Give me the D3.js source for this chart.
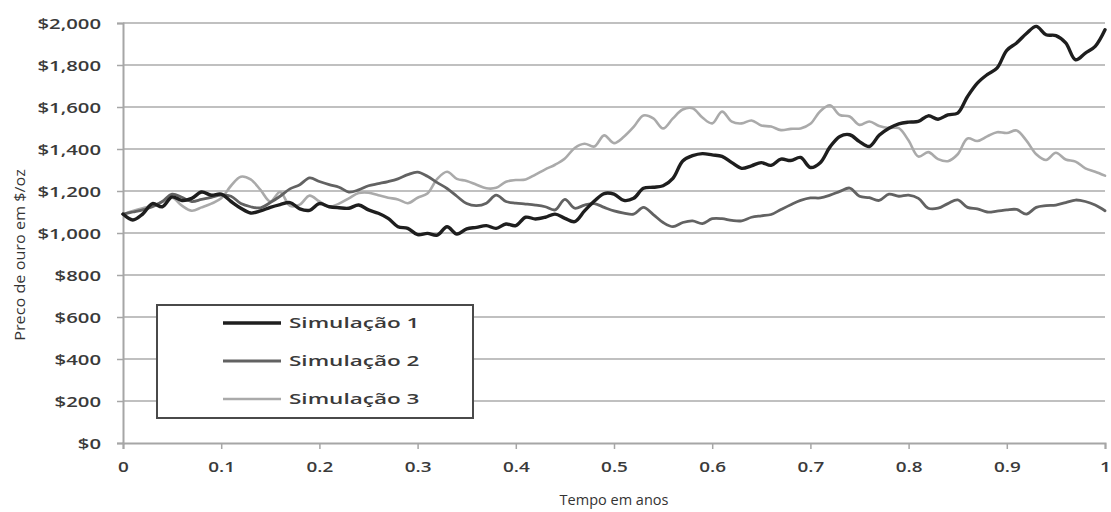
<!DOCTYPE html>
<html>
<head>
<meta charset="utf-8">
<script src="https://cdn.jsdelivr.net/npm/d3@7"></script>
<style>
  html, body { margin: 0; padding: 0; background: #fff; }
  svg { display: block; }
  text { font-family: "Open Sans", "DejaVu Sans", sans-serif; }
</style>
</head>
<body>
<svg id="chart" width="1111" height="512"></svg>
<script>
// Simulated gold price paths, sampled every 0.01 year
const times = d3.range(0, 101).map(i => i / 100);

const sim1 = [
  1090, 1062, 1090, 1140, 1125, 1172, 1155, 1165, 1195, 1180,
  1185, 1150, 1118, 1095, 1105, 1122, 1135, 1145, 1115, 1108,
  1140, 1125, 1120, 1118, 1133, 1110, 1094, 1070, 1030, 1022,
  992, 998, 990, 1030, 995, 1020, 1027, 1035, 1022, 1043,
  1035, 1075, 1067, 1075, 1090, 1070, 1054, 1105, 1152, 1188,
  1185, 1155, 1165, 1213, 1218, 1225, 1260, 1343, 1368, 1378,
  1372, 1365, 1335, 1308, 1320, 1335, 1322, 1352, 1345, 1360,
  1312, 1335, 1410, 1460, 1468, 1435, 1412, 1465, 1499, 1520,
  1528, 1531, 1558, 1542, 1563, 1571, 1650, 1714, 1754, 1785,
  1870, 1905, 1950, 1984, 1944, 1940, 1905, 1825, 1857, 1889,
  1968
];

const sim2 = [
  1090, 1100, 1110, 1125, 1150, 1185, 1170, 1150, 1160, 1170,
  1180, 1175, 1140, 1125, 1120, 1145, 1175, 1210, 1230, 1262,
  1245, 1230, 1218, 1195, 1205, 1225, 1235, 1245, 1258, 1278,
  1290, 1270, 1240, 1212, 1175, 1140, 1130, 1142, 1180, 1150,
  1142, 1138, 1133, 1125, 1110, 1160, 1118, 1133, 1140, 1122,
  1105, 1095, 1090, 1122, 1088, 1050, 1030, 1050, 1058, 1045,
  1068, 1068, 1060, 1058, 1075, 1082, 1088, 1112, 1135, 1155,
  1167, 1167, 1180, 1198, 1214, 1175, 1168, 1155, 1185, 1175,
  1180, 1165, 1118, 1118, 1140, 1158, 1122, 1115, 1100, 1104,
  1110, 1112, 1090, 1122, 1130, 1133, 1145, 1157, 1150, 1133,
  1106
];

const sim3 = [
  1090, 1105, 1118, 1130, 1148, 1168, 1130, 1106, 1122, 1140,
  1165, 1225, 1268, 1255, 1205, 1150, 1195, 1130, 1135, 1178,
  1150, 1125, 1140, 1165, 1190, 1192, 1180, 1168, 1160, 1142,
  1168, 1188, 1258, 1292, 1258, 1248, 1230, 1213, 1215, 1244,
  1252, 1255, 1278, 1303, 1325, 1355, 1405, 1425, 1412, 1465,
  1428, 1458, 1505, 1560, 1546, 1498, 1546, 1588, 1594, 1550,
  1522, 1578, 1530, 1522, 1536, 1512, 1507, 1490, 1496, 1498,
  1520, 1580, 1608, 1562, 1555, 1515, 1531, 1510, 1500, 1499,
  1440, 1364, 1385, 1352, 1342, 1375, 1450, 1438, 1460, 1480,
  1476, 1488, 1440, 1375, 1348, 1382, 1350, 1340, 1308, 1292,
  1273
];

const seriesNames = ["Simulação 1", "Simulação 2", "Simulação 3"];
const yTicks = [0, 200, 400, 600, 800, 1000, 1200, 1400, 1600, 1800, 2000];
const xTicks = [0, 0.1, 0.2, 0.3, 0.4, 0.5, 0.6, 0.7, 0.8, 0.9, 1];
const xTitle = "Tempo em anos";
const yTitle = "Preco de ouro em $/oz";

const seriesValues = [sim1, sim2, sim3];
const seriesColors = ["#1e1e1e", "#626262", "#aaaaaa"];
const seriesWidths = [3.4, 2.8, 2.6];

const svg = d3.select("#chart");
const plot = { left: 123, right: 1105, top: 23, bottom: 443 };

const x = d3.scaleLinear().domain([0, 1]).range([plot.left, plot.right]);
const y = d3.scaleLinear().domain([0, 2000]).range([plot.bottom, plot.top]);

// widen glyph runs horizontally to the proportions of the original typeface
function widen(sel, k) {
  sel.each(function () {
    const w = this.getComputedTextLength();
    this.setAttribute("textLength", w * k);
    this.setAttribute("lengthAdjust", "spacingAndGlyphs");
  });
}

// horizontal gridlines
svg.append("g")
  .selectAll("line")
  .data(yTicks.filter(d => d > 0))
  .join("line")
  .attr("x1", plot.left)
  .attr("x2", plot.right)
  .attr("y1", d => y(d))
  .attr("y2", d => y(d))
  .attr("stroke", "#c0c0c0")
  .attr("stroke-width", 2);

// y axis
const yAxis = svg.append("g")
  .attr("transform", `translate(${plot.left},0)`)
  .call(d3.axisLeft(y).tickValues(yTicks).tickSize(6).tickPadding(16)
    .tickFormat(d => "$" + d3.format(",")(d)));
yAxis.select(".domain").attr("stroke", "#a6a6a6").attr("stroke-width", 2);
yAxis.selectAll(".tick line").attr("stroke", "#a6a6a6").attr("stroke-width", 1.5);
yAxis.selectAll(".tick text")
  .attr("font-size", 14)
  .attr("font-weight", 600)
  .attr("fill", "#3a3a3a")
  .attr("dy", "0.36em")
  .call(widen, 1.45);

// x axis
const xAxis = svg.append("g")
  .attr("transform", `translate(0,${plot.bottom})`)
  .call(d3.axisBottom(x).tickValues(xTicks).tickSize(6).tickPadding(13)
    .tickFormat(d => (d === 0 || d === 1) ? String(d) : d3.format(".1f")(d)));
xAxis.select(".domain").attr("stroke", "#a6a6a6").attr("stroke-width", 2);
xAxis.selectAll(".tick line").attr("stroke", "#a6a6a6").attr("stroke-width", 1.5);
xAxis.selectAll(".tick text")
  .attr("font-size", 14)
  .attr("font-weight", 600)
  .attr("fill", "#3a3a3a")
  .call(widen, 1.35);

// series lines
const line = d3.line()
  .x((d, i) => x(times[i]))
  .y(d => y(d))
  .curve(d3.curveCatmullRom.alpha(0.5));

svg.append("g")
  .selectAll("path")
  .data([2, 1, 0])
  .join("path")
  .attr("d", i => line(seriesValues[i]))
  .attr("fill", "none")
  .attr("stroke", i => seriesColors[i])
  .attr("stroke-width", i => seriesWidths[i])
  .attr("stroke-linejoin", "round")
  .attr("stroke-linecap", "round");

// axis titles
svg.append("text")
  .attr("x", 614)
  .attr("y", 505)
  .attr("text-anchor", "middle")
  .attr("font-size", 14.5)
  .attr("fill", "#333")
  .text(xTitle);

svg.append("text")
  .attr("transform", `translate(25,${255}) rotate(-90)`)
  .attr("text-anchor", "middle")
  .attr("font-size", 15)
  .attr("fill", "#333")
  .text(yTitle)
  .call(widen, 1.08);

// legend
const legend = svg.append("g");
legend.append("rect")
  .attr("x", 157)
  .attr("y", 305)
  .attr("width", 316)
  .attr("height", 113)
  .attr("fill", "#fff")
  .attr("stroke", "#4a4a4a")
  .attr("stroke-width", 2);

const legendRows = [323, 361, 399];
const items = legend.selectAll("g.item")
  .data(seriesNames)
  .join("g")
  .attr("class", "item")
  .attr("transform", (d, i) => `translate(0,${legendRows[i]})`);

items.append("line")
  .attr("x1", 223)
  .attr("x2", 281)
  .attr("stroke", (d, i) => seriesColors[i])
  .attr("stroke-width", (d, i) => seriesWidths[i]);

items.append("text")
  .attr("x", 289)
  .attr("dy", "0.36em")
  .attr("font-size", 15)
  .attr("font-weight", 600)
  .attr("fill", "#3a3a3a")
  .text(d => d)
  .call(widen, 1.5);
</script>
</body>
</html>
